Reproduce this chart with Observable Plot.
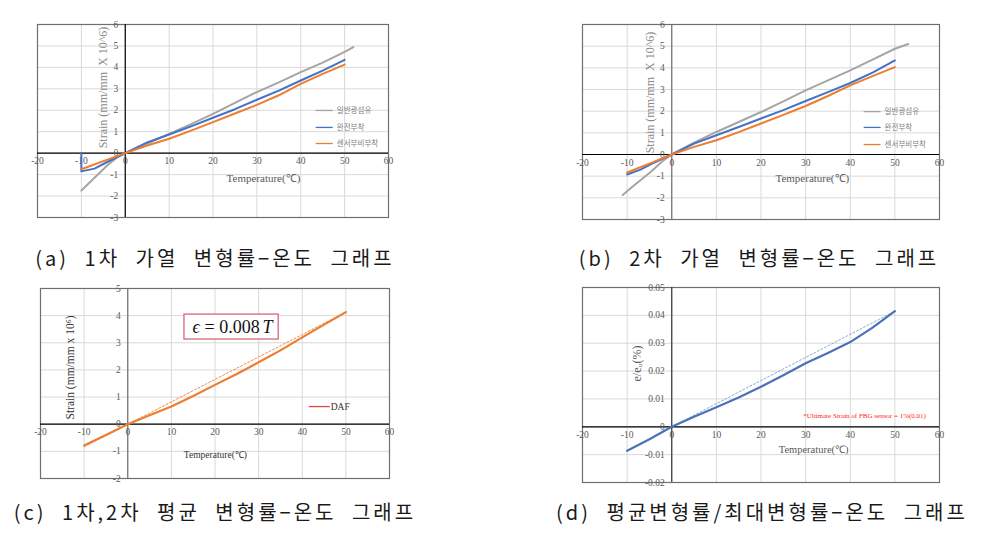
<!DOCTYPE html>
<html>
<head>
<meta charset="utf-8">
<script src="https://cdn.jsdelivr.net/npm/d3@7"></script>
<script src="https://cdn.jsdelivr.net/npm/@observablehq/plot@0.6"></script>
<style>
  html, body { margin: 0; padding: 0; background: #fff; }
  #root { position: relative; width: 986px; height: 534px; overflow: hidden; background: #fff; }
  .panel { position: absolute; }
  .cap { position: absolute; font-family: "Noto Sans CJK KR", sans-serif; font-size: 20px; color: #1a1a1a;
         white-space: pre; text-align: center; line-height: 22px; letter-spacing: 3px; word-spacing: 8px; }
</style>
</head>
<body>
<div id="root"></div>
<script>
// ---------- data ----------
const xTicks = [-20, -10, 0, 10, 20, 30, 40, 50, 60];
const yTicksAB = [-3, -2, -1, 0, 1, 2, 3, 4, 5, 6];
const yTicksC = [-2, -1, 0, 1, 2, 3, 4, 5];
const yTicksD = [-0.02, -0.01, 0, 0.01, 0.02, 0.03, 0.04, 0.05];

const seriesNames = ["일반광섬유", "완전부착", "센서부비부착"];
const seriesColors = ["#a5a5a5", "#4472c4", "#ed7d31"];

// (a) 1차 가열
const a_T0 = [-10, -7, -4, -2, 0, 5, 10, 15, 20, 25, 30, 35, 40, 45, 50, 52];
const a_S0 = [-1.74, -1.15, -0.55, -0.22, 0, 0.45, 0.9, 1.35, 1.83, 2.35, 2.85, 3.3, 3.78, 4.22, 4.72, 4.95];
const a_T1 = [-10, -10, -7, -4, 0, 5, 10, 15, 20, 25, 30, 35, 40, 45, 50];
const a_S1 = [0, -0.85, -0.72, -0.4, 0, 0.5, 0.87, 1.25, 1.65, 2.05, 2.49, 2.92, 3.39, 3.85, 4.35];
const a_T2 = [-10, -5, 0, 5, 10, 15, 20, 25, 30, 35, 40, 45, 50];
const a_S2 = [-0.75, -0.37, 0, 0.36, 0.67, 1.05, 1.45, 1.85, 2.25, 2.7, 3.23, 3.7, 4.13];

// (b) 2차 가열
const b_T0 = [-11, -8, -5, -2, 0, 5, 10, 15, 20, 25, 30, 35, 40, 45, 50, 53];
const b_S0 = [-1.87, -1.35, -0.85, -0.3, 0, 0.55, 1.04, 1.5, 1.96, 2.45, 2.96, 3.42, 3.88, 4.38, 4.88, 5.1];
const b_T1 = [-10, -7, -4, 0, 5, 10, 15, 20, 25, 30, 35, 40, 45, 50];
const b_S1 = [-0.92, -0.7, -0.38, 0, 0.5, 0.89, 1.27, 1.66, 2.05, 2.47, 2.88, 3.3, 3.78, 4.34];
const b_T2 = [-10, -5, 0, 5, 10, 15, 20, 25, 30, 35, 40, 45, 50];
const b_S2 = [-0.83, -0.42, 0, 0.35, 0.66, 1.03, 1.43, 1.83, 2.24, 2.7, 3.19, 3.62, 4.03];

// (c) 평균 (DAF)
const c_T = [-10, -5, 0, 5, 10, 15, 20, 25, 30, 35, 40, 45, 50];
const c_S = [-0.78, -0.4, 0, 0.33, 0.65, 1.04, 1.45, 1.85, 2.28, 2.72, 3.2, 3.67, 4.13];
const c_trendT = [-10, 50];
const c_trendS = [-0.83, 4.13];

// (d) 평균/최대
const d_T = [-10, -5, 0, 5, 10, 15, 20, 25, 30, 35, 40, 45, 50];
const d_R = [-0.0086, -0.0045, 0, 0.0036, 0.007, 0.0105, 0.0144, 0.0185, 0.0228, 0.0265, 0.0304, 0.0356, 0.0415];
const d_trendT = [0, 50];
const d_trendR = [0, 0.0415];

// ---------- helpers ----------
const zip = (xs, ys) => xs.map((x, i) => ({x, y: ys[i]}));
const root = document.getElementById("root");
const tickColor = "#595959";
const serif = "Liberation Serif, Times New Roman, serif";

function panel(box, yDomain, yTicks, yFmt, extraMarks, axisColor) {
  const pad = 16;
  const width = box.right - box.left + 2 * pad;
  const height = box.bottom - box.top + 2 * pad;
  const chart = Plot.plot({
    width, height,
    marginLeft: pad, marginRight: pad, marginTop: pad, marginBottom: pad,
    style: {fontFamily: serif, fontSize: "9px", background: "transparent", overflow: "visible"},
    x: {domain: [-20, 60], axis: null},
    y: {domain: yDomain, axis: null},
    marks: [
      Plot.ruleX(xTicks, {stroke: "#d9d9d9", strokeWidth: 1}),
      Plot.ruleY(yTicks, {stroke: "#d9d9d9", strokeWidth: 1}),
      Plot.frame({stroke: "#6f6f6f", strokeWidth: 1.2}),
      Plot.ruleY([0], {stroke: "#000", strokeWidth: 1.2}),
      Plot.ruleX([0], {stroke: axisColor, strokeWidth: 1.2}),
      Plot.text(xTicks, {x: d => d, y: () => 0, dy: 8, text: d => String(d), fill: tickColor, fontSize: 9.5}),
      Plot.text(yTicks, {x: () => 0, y: d => d, dx: -7, text: yFmt, textAnchor: "end", fill: tickColor, fontSize: 9.5}),
      ...extraMarks
    ]
  });
  const div = document.createElement("div");
  div.className = "panel";
  div.style.left = (box.left - pad) + "px";
  div.style.top = (box.top - pad) + "px";
  div.style.width = width + "px";
  div.appendChild(chart);
  root.appendChild(div);
}

function caption(text, cx, cy, w) {
  const d = document.createElement("div");
  d.className = "cap";
  d.textContent = text;
  d.style.left = (cx - w / 2) + "px";
  d.style.width = w + "px";
  d.style.top = (cy - 11) + "px";
  root.appendChild(d);
}

function legendMarks(names, colors, x1, x2, ys) {
  const rows = names.map((n, i) => ({n, c: colors[i], y: ys[i]}));
  return [
    Plot.link(rows, {x1: () => x1, x2: () => x2, y1: "y", y2: "y", stroke: "c", strokeWidth: 1.3}),
    Plot.text(rows, {x: () => x2, y: "y", text: "n", dx: 4, textAnchor: "start", fill: "#7f7f7f",
                     fontSize: 7.5, fontFamily: "Noto Sans CJK KR, sans-serif"})
  ];
}

const strainLabel = "Strain (mm/mm  X 10^6)";
const fmtInt = d => String(d);

// ---------- (a) ----------
panel({left: 37, right: 388, top: 24, bottom: 217}, [-3, 6], yTicksAB, fmtInt, [
  Plot.line(zip(a_T0, a_S0), {x: "x", y: "y", stroke: seriesColors[0], strokeWidth: 2}),
  Plot.line(zip(a_T1, a_S1), {x: "x", y: "y", stroke: seriesColors[1], strokeWidth: 2}),
  Plot.line(zip(a_T2, a_S2), {x: "x", y: "y", stroke: seriesColors[2], strokeWidth: 2}),
  ...legendMarks(seriesNames, seriesColors, 43.4, 47.3, [1.99, 1.2, 0.45]),
  Plot.text(["Temperature(℃)"], {x: () => 31.5, y: () => -1.18, text: d => d, fill: "#595959", fontSize: 11}),
  Plot.text([strainLabel], {x: () => -4.96, y: () => 3.06, text: d => d, rotate: -90, fill: "#8a8a8a", fontSize: 12})
], "#000");

// ---------- (b) ----------
panel({left: 582, right: 939, top: 24, bottom: 219}, [-3, 6], yTicksAB, fmtInt, [
  Plot.line(zip(b_T0, b_S0), {x: "x", y: "y", stroke: seriesColors[0], strokeWidth: 2}),
  Plot.line(zip(b_T1, b_S1), {x: "x", y: "y", stroke: seriesColors[1], strokeWidth: 2}),
  Plot.line(zip(b_T2, b_S2), {x: "x", y: "y", stroke: seriesColors[2], strokeWidth: 2}),
  ...legendMarks(seriesNames, seriesColors, 43.0, 46.8, [1.98, 1.25, 0.46]),
  Plot.text(["Temperature(℃)"], {x: () => 31.5, y: () => -1.1, text: d => d, fill: "#595959", fontSize: 11}),
  Plot.text([strainLabel], {x: () => -4.76, y: () => 2.86, text: d => d, rotate: -90, fill: "#8a8a8a", fontSize: 12})
], "#6f6f6f");

// ---------- (c) ----------
const eqFont = "Liberation Serif, serif";
panel({left: 40, right: 389, top: 288, bottom: 478}, [-2, 5], yTicksC, fmtInt, [
  Plot.rect([0], {x1: () => 13.0, x2: () => 34.6, y1: () => 3.12, y2: () => 4.04, fill: "#fff", stroke: "#d45a6e", strokeWidth: 1.2}),
  Plot.text(["ϵ"], {x: () => 14.84, y: () => 3.58, text: d => d, textAnchor: "start", fill: "#111", fontSize: 18,
                    fontFamily: eqFont, fontStyle: "italic"}),
  Plot.text(["= 0.008"], {x: () => 14.84, y: () => 3.58, dx: 12, text: d => d, textAnchor: "start", fill: "#111", fontSize: 18,
                    fontFamily: eqFont}),
  Plot.text(["T"], {x: () => 14.84, y: () => 3.58, dx: 70, text: d => d, textAnchor: "start", fill: "#111", fontSize: 18,
                    fontFamily: eqFont, fontStyle: "italic"}),
  Plot.line(zip(c_trendT, c_trendS), {x: "x", y: "y", stroke: "#ed7d31", strokeWidth: 0.9, strokeDasharray: "2,2"}),
  Plot.line(zip(c_T, c_S), {x: "x", y: "y", stroke: "#ed7d31", strokeWidth: 2.2}),
  Plot.link([0], {x1: () => 41.5, x2: () => 46.3, y1: () => 0.65, y2: () => 0.65, stroke: "#e0473a", strokeWidth: 1.3}),
  Plot.text(["DAF"], {x: () => 46.3, y: () => 0.65, text: d => d, dx: 1, textAnchor: "start", fill: "#333", fontSize: 9.5}),
  Plot.text(["Temperature(℃)"], {x: () => 20.1, y: () => -1.12, text: d => d, fill: "#333", fontSize: 9.5}),
  Plot.text(["Strain (mm/mm x 10⁶)"], {x: () => -13.1, y: () => 2.09, text: d => d, rotate: -90, fill: "#333", fontSize: 11.5})
], "#6f6f6f");

// ---------- (d) ----------
panel({left: 582, right: 939, top: 287, bottom: 482}, [-0.02, 0.05], yTicksD, d => d === 0 ? "0" : d.toFixed(2), [
  Plot.line(zip(d_trendT, d_trendR), {x: "x", y: "y", stroke: "#7f9fd4", strokeWidth: 0.9, strokeDasharray: "2,2"}),
  Plot.line(zip(d_T, d_R), {x: "x", y: "y", stroke: "#4a72b8", strokeWidth: 2.2}),
  Plot.text(["*Ultimate Strain of FBG sensor = 1%(0.01)"], {x: () => 43.2, y: () => 0.004, text: d => d, fill: "#ff2020", fontSize: 7}),
  Plot.text(["Temperature(℃)"], {x: () => 31.8, y: () => -0.0082, text: d => d, fill: "#595959", fontSize: 10.5}),
  Plot.text(["e/eᵤ(%)"], {x: () => -7.7, y: () => 0.0227, text: d => d, rotate: -90, fill: "#595959", fontSize: 12})
], "#333");

// ---------- captions ----------
caption("(a) 1차 가열 변형률−온도 그래프", 215, 258, 440);
caption("(b) 2차 가열 변형률−온도 그래프", 759, 258, 440);
caption("(c) 1차,2차 평균 변형률−온도 그래프", 215, 512, 460);
caption("(d) 평균변형률/최대변형률−온도 그래프", 762, 512, 480);
</script>
</body>
</html>
